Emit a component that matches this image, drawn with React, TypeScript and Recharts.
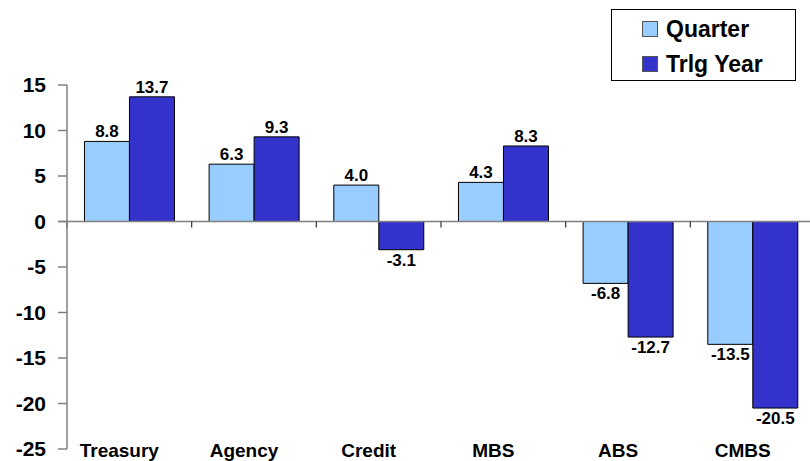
import { BarChart, Bar, XAxis, YAxis, ReferenceLine, LabelList } from "recharts";

const categories = ["Treasury", "Agency", "Credit", "MBS", "ABS", "CMBS"];
const quarter = [8.8, 6.3, 4.0, 4.3, -6.8, -13.5];
const trlgYear = [13.7, 9.3, -3.1, 8.3, -12.7, -20.5];
const yTicks = [-25, -20, -15, -10, -5, 0, 5, 10, 15];

const data = categories.map((name, i) => ({
  name,
  quarter: quarter[i],
  year: trlgYear[i],
}));

const FONT = "'Liberation Sans', Arial, sans-serif";
const LIGHT = "#99CCFF";
const DARK = "#3333CC";

const CategoryTick = ({ x, y, payload }: any) => (
  <text
    x={x - 10}
    y={y}
    dy={8}
    textAnchor="middle"
    fontFamily={FONT}
    fontWeight="bold"
    fontSize={19}
    fill="#000"
  >
    {payload.value}
  </text>
);

// zero line with small tick marks between the categories
const ZeroLine = (props: any) => {
  const { x1, x2, y1 } = props;
  const n = categories.length;
  const step = (x2 - x1) / n;
  return (
    <g>
      <line x1={x1 - 9} x2={x2} y1={y1} y2={y1} stroke="#808080" strokeWidth={1.5} />
      {categories.map((_, k) => (
        <line
          key={k}
          x1={x1 + k * step}
          x2={x1 + k * step}
          y1={y1}
          y2={y1 + 6}
          stroke="#333"
          strokeWidth={1.2}
        />
      ))}
    </g>
  );
};

const LegendBox = () => (
  <div
    style={{
      position: "absolute",
      left: 611,
      top: 9,
      width: 183,
      height: 70,
      border: "1px solid #000",
      background: "#fff",
      fontFamily: FONT,
      fontWeight: "bold",
      fontSize: 23,
    }}
  >
    {[
      { label: "Quarter", color: LIGHT },
      { label: "Trlg Year", color: DARK },
    ].map((item, i) => (
      <div
        key={item.label}
        style={{ display: "flex", alignItems: "center", marginLeft: 30, marginTop: i === 0 ? 8 : 13, height: 22 }}
      >
        <span
          style={{
            display: "inline-block",
            width: 14,
            height: 14,
            background: item.color,
            border: "1px solid #555",
            marginRight: 8,
          }}
        />
        {item.label}
      </div>
    ))}
  </div>
);

const valueLabel = {
  position: "top" as const,
  offset: 4,
  fontFamily: FONT,
  fontWeight: "bold",
  fontSize: 17,
  fill: "#000",
  formatter: (v: any) => Number(v).toFixed(1),
};

export default function App() {
  return (
    <div style={{ position: "absolute", left: 0, top: 0, width: 810, height: 461, overflow: "hidden", background: "#fff" }}>
      <BarChart
        width={815}
        height={461}
        data={data}
        margin={{ top: 85, right: 0, bottom: 0, left: 0 }}
        barCategoryGap="14%"
        barGap={0}
      >
        <XAxis
          dataKey="name"
          axisLine={false}
          tickLine={false}
          tickSize={0}
          tickMargin={0}
          height={12}
          interval={0}
          tick={<CategoryTick />}
        />
        <YAxis
          domain={[-25, 15]}
          ticks={yTicks}
          interval={0}
          width={67}
          tickSize={9}
          tickMargin={12}
          axisLine={{ stroke: "#808080", strokeWidth: 1.5 }}
          tickLine={{ stroke: "#808080", strokeWidth: 1.5 }}
          tick={{ fontFamily: FONT, fontWeight: "bold", fontSize: 21, fill: "#000" }}
        />
        <ReferenceLine y={0} shape={<ZeroLine />} />
        <Bar dataKey="quarter" name="Quarter" fill={LIGHT} stroke="#000" strokeWidth={1} isAnimationActive={false}>
          <LabelList dataKey="quarter" {...valueLabel} />
        </Bar>
        <Bar dataKey="year" name="Trlg Year" fill={DARK} stroke="#000" strokeWidth={1} isAnimationActive={false}>
          <LabelList dataKey="year" {...valueLabel} />
        </Bar>
      </BarChart>
      <LegendBox />
    </div>
  );
}
